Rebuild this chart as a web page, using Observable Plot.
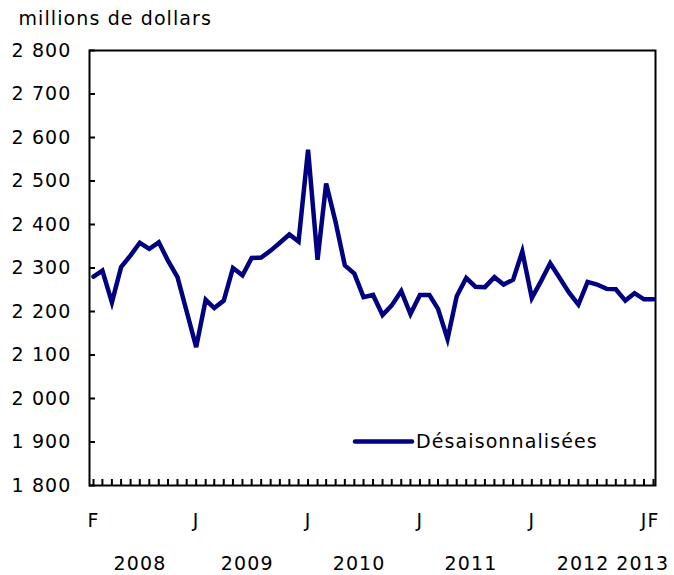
<!DOCTYPE html>
<html>
<head>
<meta charset="utf-8">
<script src="https://cdn.jsdelivr.net/npm/d3@7"></script>
<script src="https://cdn.jsdelivr.net/npm/@observablehq/plot@0.6"></script>
<style>
  html, body { margin: 0; padding: 0; background: #fff; }
  #chart svg { display: block; }
  #chart svg text { letter-spacing: 1.1px; }
</style>
</head>
<body>
<div id="chart"></div>
<script>
// Monthly values, February 2008 to February 2013 (millions de dollars)
const startYear = 2008, startMonth = 1; // February (0-based)
const values = [
  2280, 2294, 2221, 2302, 2329, 2358, 2344, 2359, 2317, 2279, 2200,
  2118, 2227, 2208, 2225, 2300, 2283, 2323, 2324, 2340, 2358, 2377, 2361,
  2572, 2319, 2494, 2405, 2306, 2287, 2233, 2238, 2192, 2214, 2247, 2194,
  2238, 2238, 2206, 2137, 2235, 2277, 2257, 2256, 2279, 2262, 2273, 2338,
  2231, 2271, 2311, 2277, 2244, 2216, 2268, 2262, 2252, 2251, 2225, 2242,
  2228, 2228
];
const seriesName = "Désaisonnalisées";
const unitLabel = "millions de dollars";
const yTicks = [1800, 1900, 2000, 2100, 2200, 2300, 2400, 2500, 2600, 2700, 2800];
const xTickLabels = [
  {year: 2008, month: 1, label: "F"},
  {year: 2009, month: 0, label: "J"},
  {year: 2010, month: 0, label: "J"},
  {year: 2011, month: 0, label: "J"},
  {year: 2012, month: 0, label: "J"},
  {year: 2013, month: 0, label: "J"},
  {year: 2013, month: 1, label: "F"}
];
const years = [2008, 2009, 2010, 2011, 2012, 2013];

const data = values.map((v, i) => ({
  date: new Date(Date.UTC(startYear, startMonth + i, 1)),
  value: v
}));
const xTicks = xTickLabels.map(d => new Date(Date.UTC(d.year, d.month, 1)));
const xLabelMap = new Map(xTickLabels.map(d => [+new Date(Date.UTC(d.year, d.month, 1)), d.label]));
const yearData = years.map((y, i) => {
  const ds = data.filter(d => d.date.getUTCFullYear() === y).map(d => +d.date);
  return {year: String(y), date: new Date(d3.mean(ds)), last: i === years.length - 1};
});

const fmt = d => String(d).replace(/\B(?=(\d{3})+(?!\d))/g, " ");
const navy = "#000080";
const FONT = "DejaVu Sans, Verdana, sans-serif";

const plot = Plot.plot({
  width: 674,
  height: 575,
  marginLeft: 89,
  marginRight: 19,
  marginTop: 50,
  marginBottom: 90,
  style: {fontFamily: FONT, fontSize: "19px", color: "#000", background: "#fff"},
  x: {type: "utc", domain: [data[0].date, data[data.length - 1].date], insetLeft: 4, insetRight: 2},
  y: {domain: [1800, 2800]},
  marks: [
    Plot.frame({stroke: "#000", strokeWidth: 2}),
    // y ticks pointing inward
    Plot.axisY({ticks: yTicks, tickSize: -6, fill: "none", stroke: "#000", strokeWidth: 2, label: null}),
    // y tick labels
    Plot.axisY({ticks: yTicks, tickSize: 0, tickPadding: 18, tickFormat: fmt, label: null, fill: "#000"}),
    // monthly x ticks pointing inward
    Plot.axisX({ticks: data.map(d => d.date), tickSize: -6, fill: "none", stroke: "#000", strokeWidth: 2, label: null}),
    // x tick letters
    Plot.axisX({ticks: xTicks, tickSize: 0, tickPadding: 28, tickFormat: d => xLabelMap.get(+d), label: null, fill: "#000"}),
    // year labels
    Plot.text(yearData.filter(d => !d.last), {x: "date", text: "year", frameAnchor: "bottom", lineAnchor: "middle", dy: 78, fill: "#000"}),
    Plot.text(yearData.filter(d => d.last), {x: "date", text: "year", frameAnchor: "bottom", lineAnchor: "middle", dy: 78, dx: -6, fill: "#000"}),
    // unit label
    Plot.text([unitLabel], {frameAnchor: "top-left", textAnchor: "start", lineAnchor: "middle", dx: -71, dy: -32, fill: "#000"}),
    // series
    Plot.line(data, {x: "date", y: "value", stroke: navy, strokeWidth: 4.5, strokeLinejoin: "miter", strokeMiterlimit: 4})
  ]
});

// Legend inside the plot area
const svg = d3.select(plot);
const lg = svg.append("g").attr("transform", "translate(355,441.5)");
lg.append("line").attr("x1", 0).attr("x2", 57).attr("y1", 0).attr("y2", 0)
  .attr("stroke", navy).attr("stroke-width", 4.5).attr("stroke-linecap", "round");
lg.append("text").attr("x", 61).attr("y", 0).attr("dy", "0.35em")
  .attr("text-anchor", "start")
  .attr("fill", "#000").attr("font-family", FONT).attr("font-size", "19px")
  .text(seriesName);

document.getElementById("chart").appendChild(plot);
</script>
</body>
</html>
